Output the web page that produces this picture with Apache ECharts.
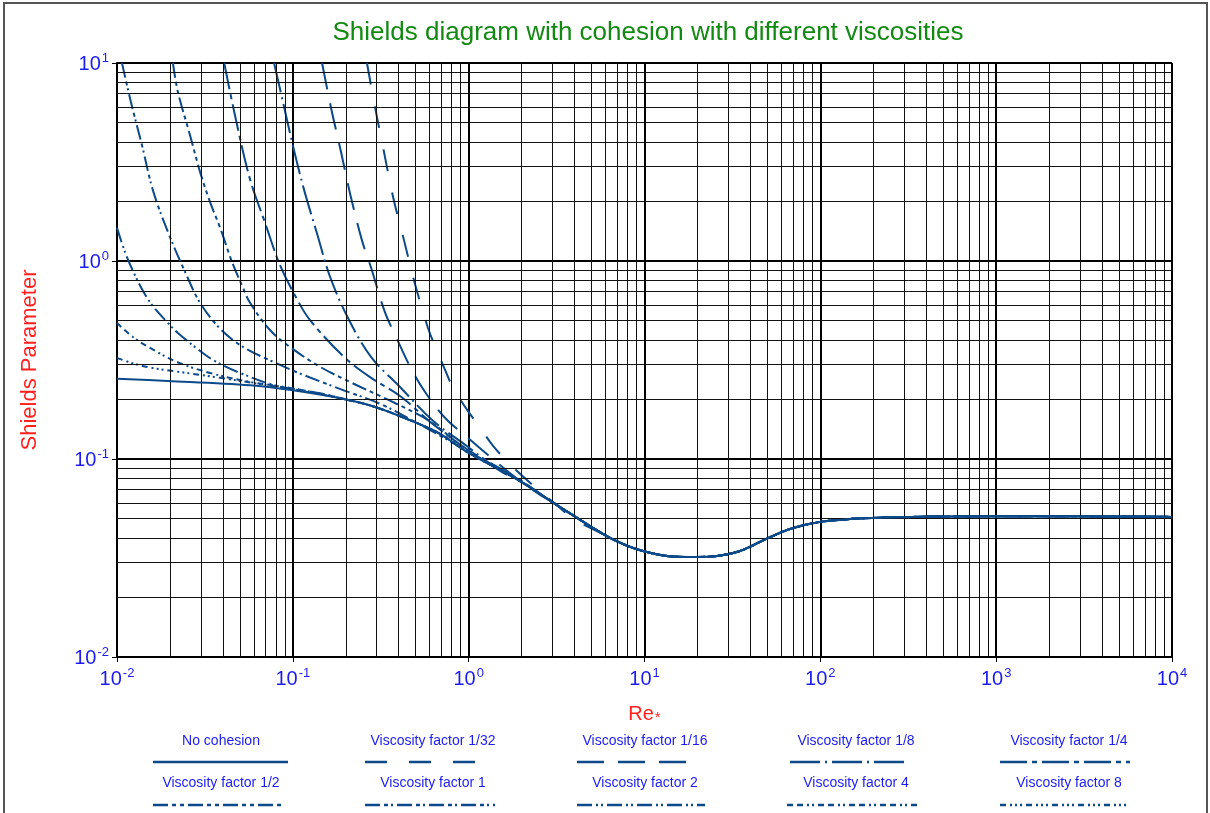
<!DOCTYPE html>
<html>
<head>
<meta charset="utf-8">
<script src="https://cdn.jsdelivr.net/npm/echarts@6/dist/echarts.min.js"></script>
<style>
  html, body { margin: 0; padding: 0; background: #fff; }
  #chart { width: 1210px; height: 813px; }
</style>
</head>
<body>
<div id="chart"></div>
<script>
// values (Re*, Shields parameter)
const reBase    = [0.01, 0.0195, 0.0572, 0.098, 0.195, 0.294, 0.489, 0.688, 0.98, 1.96, 2.98, 4.14, 5.82, 7.55, 9.8, 13.4, 18.9, 25.9, 34.9, 49, 67.3, 98, 147.6, 197, 547, 2000, 10000];
const thetaBase = [0.254, 0.248, 0.236, 0.223, 0.201, 0.183, 0.154, 0.134, 0.1085, 0.0774, 0.0607, 0.0504, 0.0418, 0.0372, 0.0343, 0.0324, 0.0320, 0.0324, 0.0343, 0.0394, 0.0443, 0.048, 0.0498, 0.0504, 0.0513, 0.0514, 0.051];

const reC32    = [0.264, 0.294, 0.330, 0.372, 0.430, 0.495, 0.587, 0.653, 0.735, 0.815, 0.98, 1.16, 1.38, 1.67, 2.09, 2.62, 3.31, 4.03];
const thetaC32 = [10, 5.93, 3.55, 2.10, 1.26, 0.766, 0.459, 0.36, 0.281, 0.229, 0.177, 0.144, 0.1163, 0.0966, 0.080, 0.0673, 0.0566, 0.0492];

const reC16    = [0.1466, 0.165, 0.188, 0.214, 0.248, 0.279, 0.334, 0.391, 0.465, 0.565, 0.735, 0.98, 1.31, 1.77, 2.55];
const thetaC16 = [10, 5.93, 3.55, 2.10, 1.26, 0.922, 0.552, 0.404, 0.292, 0.218, 0.161, 0.129, 0.1035, 0.083, 0.0658];

const reC8    = [0.0782, 0.0879, 0.1002, 0.116, 0.1375, 0.163, 0.206, 0.279, 0.407, 0.627, 0.98, 1.51];
const thetaC8 = [10, 6.35, 3.81, 2.28, 1.37, 0.83, 0.515, 0.327, 0.231, 0.156, 0.116, 0.087];

const reC4    = [0.0407, 0.0475, 0.0572, 0.0695, 0.0845, 0.107, 0.125, 0.193, 0.275, 0.407, 0.627, 0.98, 1.96];
const thetaC4 = [10, 5.15, 2.57, 1.56, 0.955, 0.628, 0.504, 0.331, 0.259, 0.208, 0.15, 0.112, 0.0784];

const reC2    = [0.0208, 0.0222, 0.0260, 0.0297, 0.0338, 0.0386, 0.0451, 0.0521, 0.0572, 0.0741, 0.098, 0.143, 0.211, 0.357, 0.602, 0.98];
const thetaC2 = [10, 7.14, 4.33, 2.81, 1.99, 1.47, 0.989, 0.731, 0.614, 0.448, 0.364, 0.292, 0.245, 0.197, 0.155, 0.111];

const reV1    = [0.01067, 0.0120, 0.0139, 0.0160, 0.0195, 0.0247, 0.0297, 0.0386, 0.0521, 0.0741, 0.110, 0.185, 0.313, 0.53, 0.98];
const thetaV1 = [10, 6.35, 3.81, 2.28, 1.40, 0.859, 0.614, 0.455, 0.368, 0.315, 0.27, 0.226, 0.19, 0.149, 0.1097];

const reV2    = [0.01, 0.0111, 0.01233, 0.01406, 0.016, 0.0195, 0.0222, 0.0297, 0.0361, 0.0501, 0.0813, 0.143];
const thetaV2 = [1.47, 1.11, 0.89, 0.705, 0.592, 0.486, 0.433, 0.351, 0.312, 0.272, 0.234, 0.215];

const reV4    = [0.01, 0.01233, 0.01541, 0.02195, 0.0338, 0.0572, 0.098];
const thetaV4 = [0.486, 0.413, 0.364, 0.309, 0.272, 0.245, 0.228];

const reV8    = [0.01, 0.01266, 0.016, 0.0228, 0.0386, 0.0651, 0.098];
const thetaV8 = [0.324, 0.302, 0.288, 0.275, 0.257, 0.239, 0.2257];

const legendNames = [
  'No cohesion', 'Viscosity factor 1/32', 'Viscosity factor 1/16', 'Viscosity factor 1/8', 'Viscosity factor 1/4',
  'Viscosity factor 1/2', 'Viscosity factor 1', 'Viscosity factor 2', 'Viscosity factor 4', 'Viscosity factor 8'
];

const xMinor = [];
const yMinor = [];
[-2, -1, 0, 1, 2, 3].forEach(function (p) {
  for (let m = 2; m <= 9; m++) xMinor.push(m * Math.pow(10, p));
});
[-2, -1, 0].forEach(function (p) {
  for (let m = 2; m <= 9; m++) yMinor.push(m * Math.pow(10, p));
});

const curveColor = '#0c4a8a';
const font = '"Liberation Sans", Arial, sans-serif';
const blue = '#1c1cf0';

// dash styles, same order as legendNames
const dashes = [
  'solid',
  [22, 22],
  [27, 14],
  [30, 5, 2, 5],
  [27, 5, 5, 5],
  [15, 4, 4, 4, 4, 4],
  [15, 4, 4, 3, 2, 4],
  [15, 4, 2, 3, 2, 4],
  [6, 4, 6, 4, 2, 3, 2, 4],
  [6, 4, 2, 3, 2, 3, 2, 4]
];

function pairs(xs, ys) {
  return xs.map(function (x, i) { return [x, ys[i]]; });
}
function withBase(xs, ys) {
  const out = pairs(xs, ys);
  const last = xs[xs.length - 1];
  reBase.forEach(function (x, i) {
    if (x > last * 1.05) out.push([x, thetaBase[i]]);
  });
  return out;
}

const curves = [
  pairs(reBase, thetaBase),
  withBase(reC32, thetaC32),
  withBase(reC16, thetaC16),
  withBase(reC8, thetaC8),
  withBase(reC4, thetaC4),
  withBase(reC2, thetaC2),
  withBase(reV1, thetaV1),
  withBase(reV2, thetaV2),
  withBase(reV4, thetaV4),
  withBase(reV8, thetaV8)
];

const series = curves.map(function (d, i) {
  return {
    name: legendNames[i],
    type: 'line',
    data: d,
    showSymbol: false,
    symbol: 'none',
    smooth: 0.35,
    z: i === 0 ? 5 : 4,
    lineStyle: { color: curveColor, width: 2, type: dashes[i], cap: 'butt' }
  };
});

// minor grid lines drawn on the axes' own scales
series.push({
  type: 'line',
  data: [],
  z: 1,
  silent: true,
  markLine: {
    silent: true,
    symbol: ['none', 'none'],
    label: { show: false },
    animation: false,
    lineStyle: { color: '#111', width: 1, type: 'solid' },
    emphasis: { disabled: true },
    data: xMinor.map(function (v) { return { xAxis: v }; })
      .concat(yMinor.map(function (v) { return { yAxis: v }; }))
  }
});

// legend below the plot: text above a sample line
const colX = [221, 433, 645, 856, 1069];
const rowText = [741, 783];
const rowLine = [762, 805];
const sampleSpan = [[153, 288], [365, 478], [577, 697], [790, 905], [1000, 1130],
                    [153, 283], [365, 495], [577, 705], [787, 920], [1000, 1130]];
const graphics = [{
  type: 'rect',
  shape: { x: 4, y: 3, width: 1203, height: 830 },
  style: { fill: 'none', stroke: '#555', lineWidth: 2 },
  silent: true
}];
legendNames.forEach(function (name, i) {
  const r = Math.floor(i / 5), c = i % 5;
  graphics.push({
    type: 'text',
    x: colX[c], y: rowText[r],
    style: { text: name, fill: blue, font: '14px ' + font, textAlign: 'center', textVerticalAlign: 'middle' },
    silent: true
  });
  graphics.push({
    type: 'line',
    shape: { x1: sampleSpan[i][0], y1: rowLine[r], x2: sampleSpan[i][1], y2: rowLine[r] },
    style: { stroke: curveColor, lineWidth: 2.5, lineDash: dashes[i] === 'solid' ? null : dashes[i] },
    silent: true
  });
});

function powLabel(v) {
  return '{b|10}{s|' + Math.round(Math.log10(v)) + '}';
}
const labelRich = {
  b: { fontSize: 20, color: blue, fontFamily: font, lineHeight: 22, verticalAlign: 'bottom' },
  s: { fontSize: 13, color: blue, fontFamily: font, verticalAlign: 'top', padding: [0, 0, 0, 1] }
};

const chart = echarts.init(document.getElementById('chart'));
chart.setOption({
  animation: false,
  backgroundColor: '#fff',
  title: {
    text: 'Shields diagram with cohesion with different viscosities',
    left: 643,
    textAlign: 'center',
    top: 15,
    textStyle: { color: '#128a12', fontSize: 26, fontWeight: 'normal', fontFamily: font }
  },
  grid: { left: 117, right: 38, top: 63, bottom: 156, containLabel: false },
  xAxis: {
    type: 'log',
    logBase: 10,
    min: 0.01,
    max: 10000,
    splitNumber: 6,
    name: '{a|Re}{b|*}',
    nameLocation: 'middle',
    nameGap: 47,
    nameTextStyle: {
      rich: {
        a: { fontSize: 20, color: '#ff2020', fontFamily: font },
        b: { fontSize: 15, color: '#ff2020', fontFamily: font, verticalAlign: 'bottom', padding: [6, 0, 0, 1] }
      }
    },
    axisLine: { show: true, lineStyle: { color: '#000', width: 2 } },
    axisTick: { show: true, length: 5, lineStyle: { color: '#000' } },
    axisLabel: { formatter: powLabel, rich: labelRich, margin: 10, showMinLabel: true, showMaxLabel: true },
    splitLine: { show: true, lineStyle: { color: '#000', width: 2 } }
  },
  yAxis: {
    type: 'log',
    logBase: 10,
    min: 0.01,
    max: 10,
    splitNumber: 3,
    name: 'Shields Parameter',
    nameLocation: 'middle',
    nameGap: 76,
    nameTextStyle: { color: '#ff2020', fontSize: 22, fontFamily: font },
    axisLine: { show: true, lineStyle: { color: '#000', width: 2 } },
    axisTick: { show: true, length: 5, lineStyle: { color: '#000' } },
    axisLabel: { formatter: powLabel, rich: labelRich, margin: 8, showMinLabel: true, showMaxLabel: true },
    splitLine: { show: true, lineStyle: { color: '#000', width: 2 } }
  },
  graphic: graphics,
  series: series
});
</script>
</body>
</html>
